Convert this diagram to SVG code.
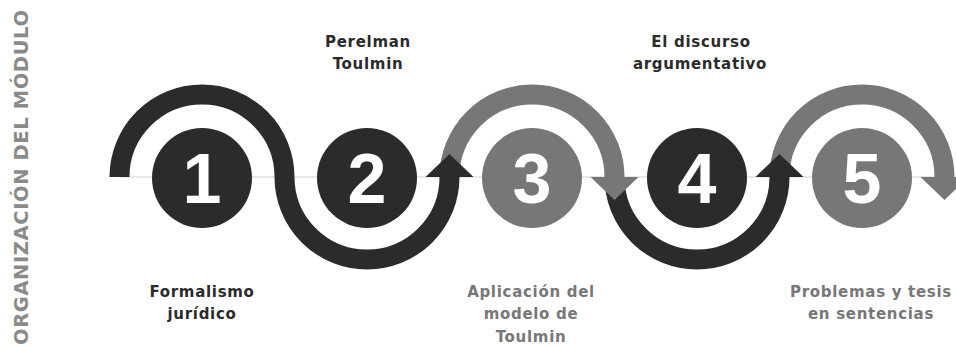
<svg xmlns="http://www.w3.org/2000/svg" width="956" height="347" viewBox="0 0 956 347">
<style>
.dark{fill:#2b2b2b}
.grey{fill:#777777}
.arcD{fill:none;stroke:#2b2b2b;stroke-width:20}
.arcG{fill:none;stroke:#777777;stroke-width:20}
.num{font-family:"Liberation Sans",Arial,sans-serif;font-weight:bold;font-size:70px;fill:#ffffff;text-anchor:middle}
.lbl{font-family:"DejaVu Sans",sans-serif;font-weight:bold;font-size:15px;text-anchor:middle;letter-spacing:0.7px}
.lblD{fill:#2b2b2b}
.lblG{fill:#777777}
.side{font-family:"DejaVu Sans",sans-serif;font-weight:bold;font-size:19.5px;fill:#8a8a8a}
</style>
<rect width="956" height="347" fill="#ffffff"/>
<text class="side" transform="translate(28,345) rotate(-90)" textLength="335" lengthAdjust="spacing">ORGANIZACIÓN DEL MÓDULO</text>
<line x1="120" y1="177" x2="944" y2="177" stroke="#d2d2d2" stroke-width="1.2"/>
<g id="connectors">
<path class="arcD" d="M119.5 177 A82.5 82.5 0 0 1 284.5 177 A82.5 82.5 0 0 0 449.5 177"/>
<path class="arcG" d="M449.5 177 A82.5 82.5 0 0 1 614.5 177"/>
<polygon class="dark" points="425.5,177 449.5,154 473.5,177"/>
<path class="arcD" d="M614.5 177 A82.5 82.5 0 0 0 779.5 177"/>
<polygon class="grey" points="590.5,177 614.5,200 638.5,177"/>
<path class="arcG" d="M779.5 177 A82.5 82.5 0 0 1 944.5 177"/>
<polygon class="dark" points="755.5,177 779.5,154 803.5,177"/>
<polygon class="grey" points="920.5,177 944.5,200 968.5,177"/>
</g>
<g id="node1">
<circle class="dark" cx="202" cy="178" r="50"/>
<text class="num" x="202" y="203">1</text>
<text class="lbl lblD" x="202" y="297">Formalismo</text>
<text class="lbl lblD" x="202" y="319">jurídico</text>
</g>
<g id="node2">
<circle class="dark" cx="367" cy="178" r="50"/>
<text class="num" x="367" y="203">2</text>
<text class="lbl lblD" x="368" y="47">Perelman</text>
<text class="lbl lblD" x="368" y="69">Toulmin</text>
</g>
<g id="node3">
<circle class="grey" cx="532" cy="178" r="50"/>
<text class="num" x="532" y="203">3</text>
<text class="lbl lblG" x="531" y="297">Aplicación del</text>
<text class="lbl lblG" x="531" y="319">modelo de</text>
<text class="lbl lblG" x="531" y="342">Toulmin</text>
</g>
<g id="node4">
<circle class="dark" cx="697" cy="178" r="50"/>
<text class="num" x="697" y="203">4</text>
<text class="lbl lblD" x="701" y="47">El discurso</text>
<text class="lbl lblD" x="700" y="69">argumentativo</text>
</g>
<g id="node5">
<circle class="grey" cx="862" cy="178" r="50"/>
<text class="num" x="862" y="203">5</text>
<text class="lbl lblG" x="871" y="297">Problemas y tesis</text>
<text class="lbl lblG" x="871" y="319">en sentencias</text>
</g>
</svg>
